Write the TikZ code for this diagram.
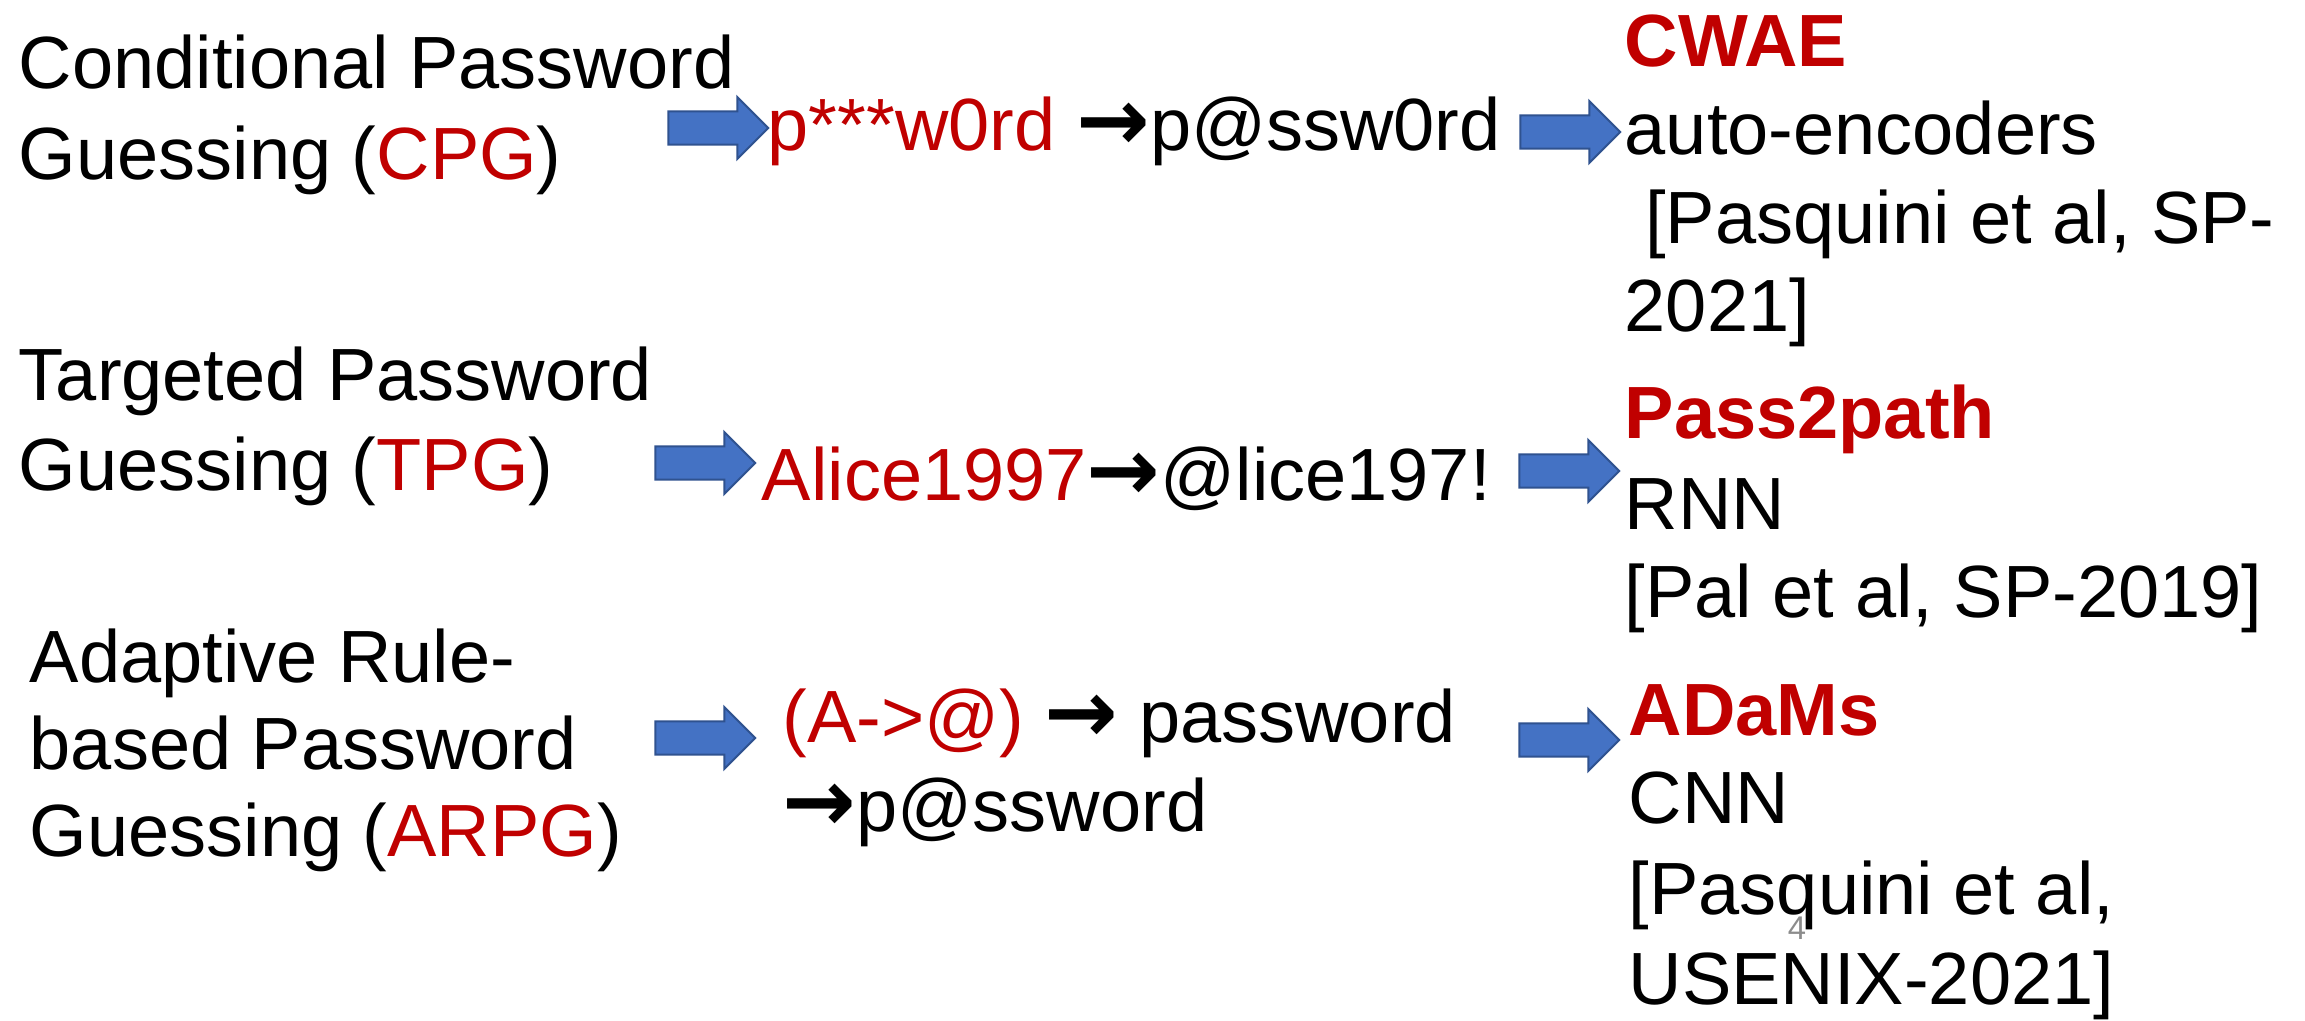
\documentclass[tikz,border=0pt]{standalone}
\usepackage{fontspec}
\setmainfont{Liberation Sans}
\newfontfamily\arrowfont{DejaVu Sans}
\usepackage{xcolor}
\usetikzlibrary{shapes.arrows}
\definecolor{ppt-red}{HTML}{C00000}
\definecolor{ppt-blue}{HTML}{4472C4}
\definecolor{ppt-edge}{HTML}{2F528F}
\definecolor{ppt-gray}{HTML}{8C8C8C}
\newcommand{\rarr}{{\arrowfont\bfseries\fontsize{22}{22}\selectfont →}}
\tikzset{
    txt/.style={anchor=base west, inner sep=0pt, font=\fontsize{18.5}{22}\selectfont},
    model/.style={txt, text=ppt-red, font=\fontsize{18.5}{22}\selectfont\bfseries},
    blockarrow/.style={single arrow, draw=ppt-edge, fill=ppt-blue, line width=0.5pt,
        inner xsep=0pt, inner ysep=3.9pt, single arrow head extend=3.6pt,
        single arrow tip angle=90, minimum height=25pt}
}

\begin{document}
\begin{tikzpicture}[x=0.25pt, y=-0.25pt]

    \useasboundingbox (0,0) rectangle (2305,1020);

    % guessing tasks
    \begin{scope}[every node/.style={txt}]
        \node (cpg1) at (18,88) {Conditional Password};
        \node (cpg2) at (18,179) {Guessing (\textcolor{ppt-red}{CPG})};
        \node (tpg1) at (18,400) {Targeted Password};
        \node (tpg2) at (18,490) {Guessing (\textcolor{ppt-red}{TPG})};
        \node (arpg1) at (29,682) {Adaptive Rule-};
        \node (arpg2) at (29,769) {based Password};
        \node (arpg3) at (29,856) {Guessing (\textcolor{ppt-red}{ARPG})};
    \end{scope}

    % examples
    \begin{scope}[every node/.style={txt}]
        \node (ex1) at (767,150) {\textcolor{ppt-red}{p***w0rd} \rarr p@ssw0rd};
        \node (ex2) at (761,500) {\textcolor{ppt-red}{Alice1997}\rarr @lice197!};
        \node (ex3a) at (782,742) {\textcolor{ppt-red}{(A->@)} \rarr{} password};
        \node (ex3b) at (782,831) {\rarr p@ssword};
    \end{scope}

    % models
    \begin{scope}[every node/.style={txt}]
        \node[model] (cwae) at (1624,66) {CWAE};
        \node (cwae1) at (1624,154) {auto-encoders};
        \node (cwae2) at (1624,243) {\ [Pasquini et al, SP-};
        \node (cwae3) at (1624,331) {2021]};
        \node[model] (p2p) at (1624,438) {Pass2path};
        \node (p2p1) at (1624,529) {RNN};
        \node (p2p2) at (1624,617) {[Pal et al, SP-2019]};
        \node[model] (adams) at (1628,735) {ADaMs};
        \node (adams1) at (1628,823) {CNN};
        \node (adams2) at (1628,914) {[Pasquini et al,};
        \node (adams3) at (1628,1004) {USENIX-2021]};
    \end{scope}

    % block arrows
    \begin{scope}[every node/.style={blockarrow}]
        \node (a1) at (710,128) {};
        \node (a2) at (1562,132) {};
        \node (a3) at (697,463) {};
        \node (a4) at (1561,471) {};
        \node (a5) at (697,738) {};
        \node (a6) at (1561,740) {};
    \end{scope}

    % slide number
    \node[anchor=base, inner sep=0pt, text=ppt-gray, font=\fontsize{8.2}{10}\selectfont] (num) at (1797,939) {4};

\end{tikzpicture}
\end{document}
